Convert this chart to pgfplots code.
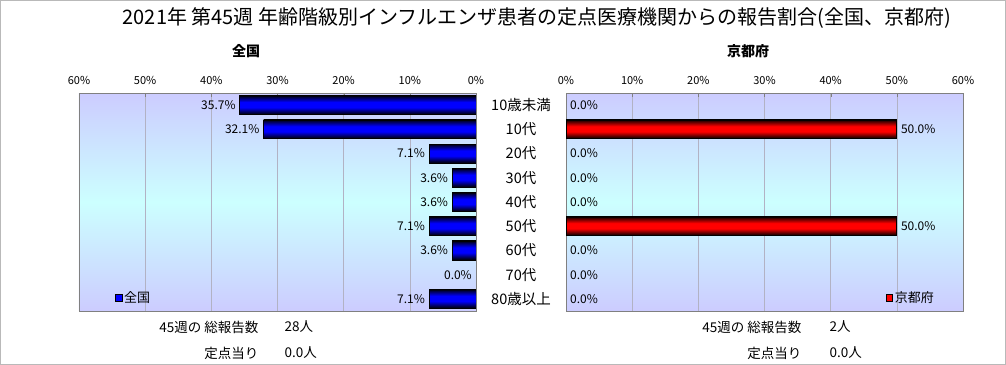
\documentclass[border=0pt]{standalone}
\usepackage{fontspec}
\setmainfont{Noto Sans CJK JP}
\usepackage{pgfplots}
\pgfplotsset{compat=1.18}
\definecolor{lav}{RGB}{204,204,255}
\definecolor{cyl}{RGB}{204,255,255}
\definecolor{gridc}{RGB}{178,178,196}
\definecolor{framec}{RGB}{128,128,128}
\definecolor{dblue}{RGB}{0,0,60}
\definecolor{dred}{RGB}{60,0,0}
\pgfdeclareverticalshading{bgshade}{100bp}{color(0bp)=(lav); color(25bp)=(lav); color(50bp)=(cyl); color(75bp)=(lav); color(100bp)=(lav)}
\pgfdeclareverticalshading{barblue}{100bp}{color(0bp)=(black); color(25bp)=(black); color(30bp)=(dblue); color(44bp)=(blue); color(58bp)=(blue); color(72bp)=(dblue); color(75bp)=(black); color(100bp)=(black)}
\pgfdeclareverticalshading{barred}{100bp}{color(0bp)=(black); color(25bp)=(black); color(30bp)=(dred); color(44bp)=(red); color(58bp)=(red); color(72bp)=(dred); color(75bp)=(black); color(100bp)=(black)}
\pgfplotstableread{
y val
0 35.7
1 32.1
2 7.1
3 3.6
4 3.6
5 7.1
6 3.6
7 0.0
8 7.1
}\zenkoku
\pgfplotstableread{
y val
0 0.0
1 50.0
2 0.0
3 0.0
4 0.0
5 50.0
6 0.0
7 0.0
8 0.0
}\kyoto
\pgfplotsset{
  common/.style={
    scale only axis, width=397bp, height=218bp, anchor=center,
    xbar, bar width=0.78,
    y dir=reverse, ymin=-0.5, ymax=8.5, ytick={0,...,8},
    xmin=0, xmax=60, xtick={0,10,...,60},
    xtick pos=right, xticklabel pos=right,
    tick align=inside, major tick length=4bp,
    xmajorgrids, grid style={gridc, line width=0.6pt},
    axis line style={framec, line width=0.8pt},
    xtick style={framec}, ytick style={draw=none},
    axis background/.style={shading=bgshade},
    /pgf/number format/assume math mode=true,
    xticklabel={\pgfmathprintnumber{\tick}\%},
    xticklabel style={font=\fontsize{11bp}{12bp}\selectfont, yshift=5bp},
    legend style={draw=none, fill=none, font=\fontsize{13bp}{15bp}\selectfont, inner sep=0pt, legend cell align=left},
  },
  lbl/.style={draw=none, fill=none, forget plot, bar shift=0pt,
    nodes near coords={\pgfmathprintnumber[fixed,fixed zerofill,precision=1]{\pgfplotspointmeta}\%},
    every node near coord/.append style={anchor=#1, font=\fontsize{12bp}{13bp}\selectfont, text=black, inner sep=4bp}},
  bb/.style={bar shift=0pt, forget plot, shading=barblue, draw=black, line width=0.7pt},
  rb/.style={bar shift=0pt, forget plot, shading=barred, draw=black, line width=0.7pt},
}
\begin{document}
\begin{tikzpicture}
\path[use as bounding box] (0bp,0bp) rectangle (1006bp,365bp);
\draw[gray!55, line width=0.8pt] (0.4bp,0.4bp) rectangle (1005.6bp,364.6bp);
\node[font=\fontsize{20bp}{22bp}\selectfont] at (537bp,347bp) {2021年 第45週 年齢階級別インフルエンザ患者の定点医療機関からの報告割合(全国、京都府)};
\node[font=\fontsize{14bp}{16bp}\selectfont\bfseries] at (246bp,314bp) {全国};
\node[font=\fontsize{14bp}{16bp}\selectfont\bfseries] at (748bp,314bp) {京都府};
% left axis
\begin{axis}[common, at={(277.5bp,163bp)}, x dir=reverse, yticklabels={},
  legend style={at={(0.09,0.06)}, anchor=west}]
\addplot[bb] coordinates {(35.7,0)};
\addplot[bb] coordinates {(32.1,1)};
\addplot[bb] coordinates {(7.1,2)};
\addplot[bb] coordinates {(3.6,3)};
\addplot[bb] coordinates {(3.6,4)};
\addplot[bb] coordinates {(7.1,5)};
\addplot[bb] coordinates {(3.6,6)};
\addplot[bb] coordinates {(7.1,8)};
\addplot[lbl=east] table[x=val,y=y] {\zenkoku};
\addlegendimage{legend image code/.code={\draw[draw=black,fill=blue,line width=0.6pt] (0bp,-3.3bp) rectangle (6.6bp,3.3bp);}}
\addlegendentry{全国}
\end{axis}
% right axis
\begin{axis}[common, at={(764.5bp,163bp)},
  yticklabels={10歳未満,10代,20代,30代,40代,50代,60代,70代,80歳以上},
  yticklabel style={anchor=center, xshift=-45bp, font=\fontsize{14.5bp}{16bp}\selectfont},
  legend style={at={(0.805,0.06)}, anchor=west}]
\addplot[rb] coordinates {(50.0,1)};
\addplot[rb] coordinates {(50.0,5)};
\addplot[lbl=west] table[x=val,y=y] {\kyoto};
\addlegendimage{legend image code/.code={\draw[draw=black,fill=red,line width=0.6pt] (0bp,-3.3bp) rectangle (6.6bp,3.3bp);}}
\addlegendentry{京都府}
\end{axis}
% summary text
\begin{scope}[font=\fontsize{13.5bp}{15bp}\selectfont]
\node[anchor=east] at (262bp,38bp) {45週の 総報告数};
\node[anchor=west] at (281bp,38bp) {28人};
\node[anchor=east] at (262bp,12bp) {定点当り};
\node[anchor=west] at (281bp,12bp) {0.0人};
\node[anchor=east] at (805bp,38bp) {45週の 総報告数};
\node[anchor=west] at (826bp,38bp) {2人};
\node[anchor=east] at (805bp,12bp) {定点当り};
\node[anchor=west] at (826bp,12bp) {0.0人};
\end{scope}
\end{tikzpicture}
\end{document}
